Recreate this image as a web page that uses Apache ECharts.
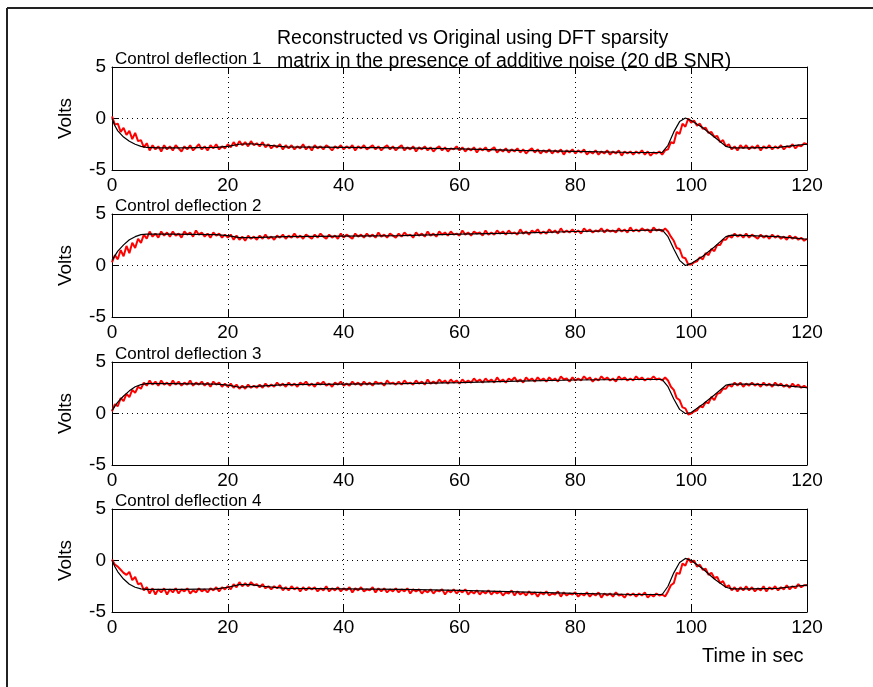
<!DOCTYPE html>
<html>
<head>
<meta charset="utf-8">
<script src="https://cdn.jsdelivr.net/npm/echarts@6/dist/echarts.min.js"></script>
<style>html,body{margin:0;padding:0;background:#fff;}#c{width:873px;height:687px;}</style>
</head>
<body>
<div id="c"></div>
<script>
// ---- data ----
const panelTitles = ['Control deflection 1','Control deflection 2','Control deflection 3','Control deflection 4'];
const xTicks = [0,20,40,60,80,100,120];
const yTicks = [-5,0,5];
const redStep = 0.5; // seconds between reconstructed samples

// original (black) signals: breakpoints
const blackT1 = [0,0.5,1,2,3,4,5,6,8,12,18,20,22,24,26,30,40,50,60,70,80,90,95,96,97,98,99,100,102,104,106,107,110,115,118,120];
const blackV1 = [0,-0.7,-1.2,-1.8,-2.2,-2.5,-2.7,-2.8,-2.85,-2.85,-2.8,-2.7,-2.5,-2.45,-2.55,-2.75,-2.8,-2.85,-2.95,-3.1,-3.2,-3.3,-3.3,-2.6,-1.3,-0.3,0.05,-0.2,-0.9,-1.8,-2.7,-2.85,-2.85,-2.8,-2.6,-2.5];

const blackT2 = [0,1,2,3,4,5,6,10,18,20,22,24,30,40,50,60,70,80,90,95,96,97,98,99,100,102,104,106,107,110,115,118,120];
const blackV2 = [0.5,1.4,2.0,2.5,2.8,3.0,3.05,3.05,3.0,2.9,2.7,2.7,2.8,2.85,2.9,3.05,3.15,3.3,3.4,3.45,2.8,1.6,0.5,0.0,0.2,0.9,1.8,2.8,2.95,2.9,2.8,2.65,2.55];

const blackT3 = [0,1,2,3,4,5,6,10,18,20,22,24,30,40,50,60,70,80,90,95,96,97,98,99,100,102,104,106,107,110,115,118,120];
const blackV3 = [0.3,1.1,1.7,2.2,2.6,2.8,2.9,2.9,2.85,2.75,2.55,2.6,2.8,2.85,2.9,3.0,3.15,3.25,3.3,3.3,2.6,1.4,0.4,0.0,0.1,0.9,1.8,2.75,2.85,2.85,2.75,2.6,2.5];

const blackT4 = [0,0.5,1,2,3,4,5,6,12,18,20,22,24,26,30,40,50,60,70,80,90,95,96,97,98,99,100,102,104,106,107,110,115,118,120];
const blackV4 = [0,-0.6,-1.1,-1.8,-2.3,-2.6,-2.75,-2.8,-2.8,-2.75,-2.6,-2.35,-2.35,-2.5,-2.7,-2.75,-2.8,-2.9,-3.05,-3.2,-3.3,-3.3,-2.5,-1.2,-0.2,0.2,0.0,-0.8,-1.8,-2.6,-2.75,-2.75,-2.7,-2.5,-2.4];

// reconstructed (red) signals, one sample every 0.5 s, t = 0..120
const red1 = [
0.2,-0.6,-0.5,-1.3,-0.9,-1.6,-1.2,-2.0,-1.4,-2.2,
-2.1,-2.8,-2.4,-3.1,-2.6,-3.0,-2.7,-3.2,-2.6,-3.0,
-2.7,-3.1,-2.6,-2.9,-3.2,-2.7,-3.0,-2.6,-3.1,-2.8,
-2.5,-3.0,-2.7,-3.1,-2.6,-2.9,-2.5,-3.0,-2.7,-2.9,
-2.5,-2.8,-2.3,-2.7,-2.2,-2.6,-2.3,-2.7,-2.2,-2.6,
-2.4,-2.7,-2.3,-2.8,-2.5,-2.9,-2.6,-2.8,-2.5,-3.0,
-2.6,-2.9,-2.6,-3.0,-2.7,-2.9,-2.5,-3.0,-2.7,-3.1,
-2.6,-2.9,-2.7,-3.0,-2.6,-2.8,-3.1,-2.7,-2.9,-2.6,
-3.0,-2.7,-2.9,-2.6,-3.1,-2.7,-2.9,-2.6,-3.0,-2.8,
-2.6,-3.0,-2.7,-3.1,-2.8,-2.6,-3.0,-2.7,-3.1,-2.8,
-2.6,-3.1,-2.8,-3.0,-2.7,-3.2,-2.8,-3.0,-2.7,-3.1,
-2.8,-3.2,-2.9,-2.7,-3.1,-2.8,-3.2,-2.9,-3.0,-2.7,
-3.1,-2.8,-3.2,-2.9,-3.1,-2.8,-3.3,-2.9,-3.1,-2.8,
-3.2,-3.0,-2.8,-3.3,-3.0,-3.2,-2.9,-3.3,-3.0,-3.2,
-2.9,-3.3,-3.0,-3.4,-3.1,-2.9,-3.3,-3.0,-3.4,-3.1,
-3.3,-3.0,-3.4,-3.1,-3.3,-3.0,-3.5,-3.1,-3.3,-3.0,
-3.4,-3.1,-3.3,-3.0,-3.5,-3.2,-3.4,-3.1,-3.5,-3.2,
-3.4,-3.1,-3.5,-3.2,-3.4,-3.1,-3.6,-3.2,-3.4,-3.2,
-3.5,-3.2,-3.4,-3.1,-3.5,-3.2,-3.6,-3.3,-3.4,-3.2,
-3.5,-3.1,-3.0,-2.3,-2.4,-1.3,-1.5,-0.5,-0.8,0.0,
-0.4,-0.2,-0.7,-0.5,-1.0,-0.9,-1.4,-1.3,-1.8,-1.7,
-2.3,-2.1,-2.7,-2.5,-3.0,-2.7,-3.1,-2.6,-2.9,-2.6,
-3.0,-2.7,-2.9,-2.6,-3.1,-2.7,-2.9,-2.6,-3.0,-2.7,
-2.9,-2.6,-3.0,-2.7,-2.8,-2.5,-2.9,-2.6,-2.7,-2.4,
-2.5];
const red2 = [
0.3,1.0,0.6,1.5,0.9,1.9,1.2,2.2,1.7,2.6,
2.2,3.0,2.6,3.3,2.8,3.1,2.7,3.3,2.9,3.2,
2.8,3.3,2.9,3.1,2.7,3.3,3.0,3.2,2.8,3.4,
3.0,3.2,2.8,3.1,2.7,3.2,2.9,3.1,2.7,3.0,
2.7,3.0,2.5,2.9,2.5,2.8,2.4,2.9,2.6,2.8,
2.5,2.9,2.6,3.0,2.6,2.8,2.5,2.9,2.7,3.0,
2.6,2.9,2.7,3.1,2.7,2.9,2.6,3.0,2.8,2.6,
3.0,2.7,3.1,2.8,2.6,3.0,2.7,2.9,2.6,3.1,
2.7,3.0,2.8,2.6,3.1,2.8,3.0,2.7,3.1,2.8,
3.0,2.7,3.2,2.8,3.0,2.7,3.1,2.9,2.7,3.1,
2.8,3.2,2.9,3.0,2.7,3.2,2.9,3.1,2.8,3.3,
2.9,3.1,2.8,3.3,3.0,3.2,2.9,3.3,3.0,3.1,
2.9,3.4,3.0,3.2,2.9,3.3,3.1,3.2,2.9,3.4,
3.0,3.2,3.0,3.4,3.1,3.3,3.0,3.4,3.1,3.2,
3.0,3.5,3.1,3.3,3.0,3.4,3.2,3.5,3.1,3.3,
3.1,3.5,3.2,3.4,3.1,3.6,3.2,3.4,3.2,3.5,
3.2,3.4,3.1,3.6,3.3,3.5,3.2,3.4,3.3,3.6,
3.2,3.5,3.3,3.4,3.2,3.6,3.3,3.5,3.2,3.7,
3.3,3.5,3.3,3.6,3.4,3.5,3.2,3.7,3.4,3.5,
3.3,3.6,3.3,2.8,2.4,1.7,1.6,0.8,0.7,0.1,
0.1,0.3,0.4,0.8,0.6,1.2,1.0,1.6,1.4,2.0,
2.0,2.5,2.5,2.9,2.7,3.1,2.8,3.0,2.7,3.1,
2.7,3.0,2.8,2.6,3.0,2.7,2.9,2.6,3.0,2.7,
2.9,2.6,2.8,2.5,2.9,2.6,2.8,2.5,2.7,2.4,
2.6];
const red3 = [
0.2,0.9,0.7,1.5,1.2,1.9,1.6,2.3,2.0,2.6,
2.4,3.0,2.7,3.2,2.8,3.1,2.7,3.2,2.8,3.0,
2.7,3.2,2.8,3.1,2.7,3.0,2.8,3.2,2.7,3.0,
2.8,3.1,2.7,3.0,2.6,3.1,2.8,3.0,2.6,2.9,
2.6,2.9,2.5,2.8,2.4,2.7,2.4,2.8,2.5,2.7,
2.5,2.8,2.5,2.9,2.6,2.8,2.6,3.0,2.7,2.9,
2.6,3.0,2.7,2.9,2.6,3.0,2.8,3.1,2.7,2.9,
2.6,3.0,2.8,3.1,2.7,2.9,2.6,3.0,2.8,3.1,
2.7,2.9,2.7,3.1,2.8,3.0,2.7,3.1,2.8,3.0,
2.7,3.1,2.9,3.0,2.7,3.2,2.9,3.0,2.8,3.1,
2.8,3.2,2.9,3.0,2.8,3.2,2.9,3.1,2.8,3.3,
2.9,3.1,2.9,3.3,3.0,3.2,2.9,3.3,3.0,3.2,
2.9,3.3,3.0,3.2,3.0,3.4,3.1,3.3,3.0,3.4,
3.1,3.3,3.0,3.5,3.1,3.3,3.0,3.4,3.2,3.5,
3.1,3.3,3.0,3.5,3.2,3.4,3.1,3.5,3.2,3.4,
3.1,3.5,3.2,3.4,3.1,3.6,3.3,3.4,3.1,3.5,
3.2,3.4,3.2,3.6,3.3,3.5,3.1,3.4,3.2,3.6,
3.3,3.5,3.2,3.4,3.1,3.6,3.3,3.5,3.2,3.4,
3.2,3.6,3.3,3.5,3.2,3.4,3.3,3.6,3.3,3.4,
3.2,3.5,3.2,2.6,2.3,1.5,1.3,0.6,0.5,-0.1,
0.0,0.2,0.3,0.7,0.6,1.1,1.0,1.6,1.3,1.9,
2.0,2.4,2.4,2.8,2.6,3.0,2.7,3.0,2.6,2.9,
2.7,3.0,2.7,2.9,2.6,3.0,2.7,2.9,2.6,3.0,
2.7,2.9,2.6,2.8,2.5,2.9,2.6,2.8,2.5,2.7,
2.5];
const red4 = [
0.1,-0.4,-0.6,-0.9,-1.2,-1.4,-1.1,-1.9,-1.6,-2.3,
-2.2,-2.9,-2.6,-3.2,-2.7,-3.3,-2.8,-3.1,-2.7,-3.3,
-2.8,-3.1,-2.7,-3.2,-2.8,-3.0,-2.7,-3.2,-2.9,-3.1,
-2.7,-3.0,-2.8,-3.1,-2.7,-2.9,-2.6,-3.0,-2.6,-2.8,
-2.5,-2.8,-2.3,-2.6,-2.1,-2.5,-2.2,-2.5,-2.1,-2.4,
-2.3,-2.6,-2.3,-2.7,-2.5,-2.8,-2.5,-2.7,-2.4,-2.9,
-2.6,-2.9,-2.5,-2.8,-2.6,-3.0,-2.6,-2.9,-2.6,-2.8,
-2.6,-3.0,-2.7,-2.9,-2.5,-3.0,-2.7,-2.9,-2.6,-3.0,
-2.7,-2.9,-2.6,-3.1,-2.7,-2.9,-2.6,-3.0,-2.8,-2.9,
-2.6,-3.1,-2.7,-3.0,-2.7,-3.1,-2.8,-3.0,-2.7,-3.1,
-2.8,-3.0,-2.7,-3.2,-2.8,-3.0,-2.8,-3.2,-2.9,-3.1,
-2.8,-3.2,-2.9,-3.0,-2.8,-3.3,-2.9,-3.1,-2.8,-3.2,
-2.9,-3.1,-2.8,-3.3,-3.0,-3.2,-2.9,-3.3,-3.0,-3.2,
-2.9,-3.3,-3.0,-3.2,-3.0,-3.4,-3.1,-3.2,-2.9,-3.4,
-3.0,-3.3,-3.1,-3.4,-3.0,-3.3,-3.1,-3.5,-3.1,-3.3,
-3.0,-3.4,-3.2,-3.3,-3.0,-3.5,-3.1,-3.4,-3.2,-3.3,
-3.1,-3.5,-3.2,-3.4,-3.1,-3.5,-3.2,-3.4,-3.1,-3.6,
-3.2,-3.4,-3.2,-3.5,-3.1,-3.4,-3.3,-3.6,-3.2,-3.4,
-3.2,-3.5,-3.2,-3.4,-3.1,-3.6,-3.3,-3.5,-3.2,-3.4,
-3.3,-3.5,-3.0,-2.4,-2.2,-1.2,-1.3,-0.3,-0.5,0.2,
-0.2,0.0,-0.6,-0.4,-0.9,-0.8,-1.4,-1.2,-1.7,-1.6,
-2.2,-2.0,-2.6,-2.4,-2.9,-2.6,-3.0,-2.6,-2.9,-2.5,
-2.9,-2.6,-3.0,-2.7,-2.9,-2.5,-3.0,-2.6,-2.8,-2.5,
-2.9,-2.6,-2.8,-2.4,-2.8,-2.5,-2.7,-2.3,-2.6,-2.4,
-2.4];

const blackT = [blackT1, blackT2, blackT3, blackT4];
const blackV = [blackV1, blackV2, blackV3, blackV4];
const reds = [red1, red2, red3, red4];

// ---- layout ----
const FONT = 'Liberation Sans, Arial, sans-serif';
const gridTops = [67, 214, 362, 509];
const gridH = 103;
const chart = echarts.init(document.getElementById('c'), null, {renderer: 'canvas'});

const grids = [], xAxes = [], yAxes = [], series = [], titles = [];
const zip = (t, v) => t.map((x, i) => [x, v[i]]);

for (let i = 0; i < 4; i++) {
  grids.push({left: 112, width: 695, top: gridTops[i], height: gridH, show: false, containLabel: false});
  const common = {
    gridIndex: i, type: 'value', min: xTicks[0], max: xTicks[xTicks.length - 1], interval: xTicks[1] - xTicks[0],
    axisLine: {show: true, onZero: false, lineStyle: {color: '#000', width: 1}},
    axisTick: {show: true, inside: true, length: 7, lineStyle: {color: '#000'}},
  };
  xAxes.push(Object.assign({}, common, {
    position: 'bottom',
    axisLabel: {show: true, color: '#000', fontSize: 19, fontFamily: FONT, margin: 6},
    splitLine: {show: true, lineStyle: {color: '#000', type: [1, 4], width: 1}}
  }));
  xAxes.push(Object.assign({}, common, {
    position: 'top', axisLabel: {show: false}, splitLine: {show: false}
  }));
  const ycommon = {
    gridIndex: i, type: 'value', min: yTicks[0], max: yTicks[yTicks.length - 1], interval: yTicks[1] - yTicks[0],
    axisLine: {show: true, onZero: false, lineStyle: {color: '#000', width: 1}},
    axisTick: {show: true, inside: true, length: 7, lineStyle: {color: '#000'}},
  };
  yAxes.push(Object.assign({}, ycommon, {
    position: 'left',
    name: 'Volts', nameLocation: 'middle', nameGap: 37, nameRotate: 90,
    nameTextStyle: {color: '#000', fontSize: 19, fontFamily: FONT},
    axisLabel: {show: true, color: '#000', fontSize: 19, fontFamily: FONT, margin: 6},
    splitLine: {show: true, lineStyle: {color: '#000', type: [1, 4], width: 1}}
  }));
  yAxes.push(Object.assign({}, ycommon, {
    position: 'right', axisLabel: {show: false}, splitLine: {show: false}
  }));
  series.push({
    type: 'line', xAxisIndex: 2 * i, yAxisIndex: 2 * i, showSymbol: false, symbol: 'none',
    data: reds[i].map((v, k) => [k * redStep, v]),
    lineStyle: {color: '#ff0000', width: 2}, z: 2, silent: true
  });
  series.push({
    type: 'line', xAxisIndex: 2 * i, yAxisIndex: 2 * i, showSymbol: false, symbol: 'none',
    data: zip(blackT[i], blackV[i]),
    lineStyle: {color: '#000', width: 1.2}, z: 3, silent: true
  });
  titles.push({
    text: panelTitles[i], left: 110, top: gridTops[i] - 21,
    textStyle: {color: '#000', fontSize: 17, fontWeight: 'normal', fontFamily: FONT}
  });
}

titles.push({
  text: 'Reconstructed vs Original using DFT sparsity\nmatrix in the presence of additive noise (20 dB SNR)',
  left: 272, top: 22,
  textStyle: {color: '#000', fontSize: 19.5, fontWeight: 'normal', fontFamily: FONT, lineHeight: 23}
});
titles.push({
  text: 'Time in sec', left: 697, top: 641,
  textStyle: {color: '#000', fontSize: 20, fontWeight: 'normal', fontFamily: FONT}
});

chart.setOption({
  animation: false,
  backgroundColor: '#fff',
  title: titles,
  grid: grids,
  xAxis: xAxes,
  yAxis: yAxes,
  series: series,
  graphic: [
    {type: 'line', shape: {x1: 7, y1: 8, x2: 873, y2: 8}, style: {stroke: '#222', lineWidth: 2}},
    {type: 'line', shape: {x1: 7, y1: 8, x2: 7, y2: 687}, style: {stroke: '#222', lineWidth: 2}}
  ]
});
</script>
</body>
</html>
